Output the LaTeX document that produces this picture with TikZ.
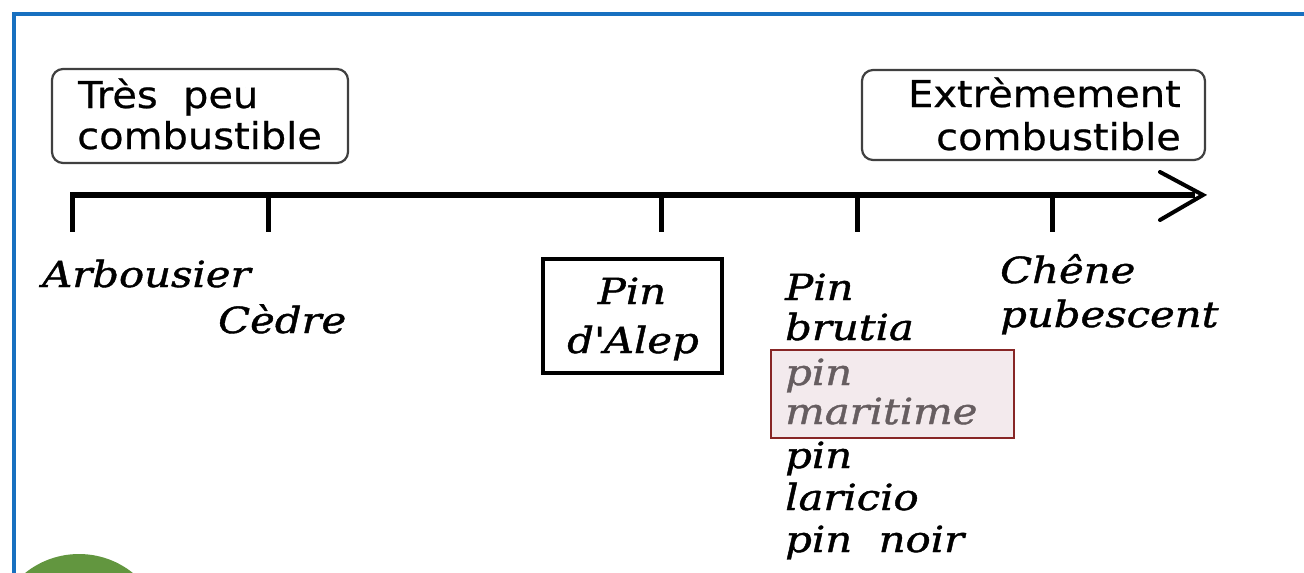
\documentclass[tikz,border=0pt]{standalone}
\usepackage{fontspec}
\newfontfamily\itf{DejaVu Serif Italic}[FakeStretch=1.16, FakeBold=1.2]
\newfontfamily\sff{DejaVu Sans}[FakeStretch=1.08, FakeBold=0.6]
\begin{document}
\begin{tikzpicture}[x=1pt,y=-1pt,
  sanslbl/.style={inner sep=0pt, anchor=base west, font=\sff\fontsize{37}{42}\selectfont},
  sanslblr/.style={inner sep=0pt, anchor=base east, font=\sff\fontsize{37}{42}\selectfont},
  itlbl/.style={inner sep=0pt, anchor=base west, font=\itf\fontsize{36}{42}\selectfont},
  itlblc/.style={inner sep=0pt, anchor=base, font=\itf\fontsize{36}{42}\selectfont},
  rbox/.style={draw=black!75, line width=2.2pt, rounded corners=11pt},
  tick/.style={line width=5pt},
  axis/.style={line width=6pt}]
\useasboundingbox (0,0) rectangle (1304,573);
\definecolor{frameblue}{RGB}{24,112,192}
\definecolor{leafgreen}{RGB}{98,150,63}
\definecolor{hlfill}{RGB}{228,208,214}
\definecolor{hldraw}{RGB}{135,38,38}
% frame
\draw[frameblue, line width=4pt] (14,580) -- (14,14) -- (1310,14);
% green circle
\fill[leafgreen] (79,640) circle (86);
% boxes
\draw[rbox] (52,69) rectangle (348,163);
\draw[rbox] (862,70) rectangle (1205,160);
\node[sanslbl] (t1) at (78,108) {Très\ \ peu};
\node[sanslbl] (t2) at (77,149) {combustible};
\node[sanslblr] (e1) at (1181,107) {Extrèmement};
\node[sanslblr] (e2) at (1181,150) {combustible};
% axis
\coordinate (a0) at (70,195);
\coordinate (a1) at (1195,195);
\coordinate (tip) at (1203,195);
\draw[axis] (a0) -- (a1);
\draw[line width=4pt, line cap=round, line join=miter] (1160,172) -- (tip) -- (1160,220);
\foreach \x/\n in {72/k1,268/k2,661/k3,857/k4,1052/k5}{
  \coordinate (\n) at (\x,195);
  \draw[tick] (\n) -- ++(0,37);
}
% labels
\node[itlbl] (arb) at (42,287) {Arbousier};
\node[itlbl] (ced) at (218,333) {Cèdre};
\draw[line width=3.5pt] (543,259) rectangle (722,373);
\node[itlblc] (al1) at (632,304) {Pin};
\node[itlblc] (al2) at (633,353) {d\textquotesingle Alep};
\node[itlbl] (pb1) at (785,300) {Pin};
\node[itlbl] (pb2) at (785,340) {brutia};
\node[itlbl] (pm1) at (785,385) {pin};
\node[itlbl] (pm2) at (785,424) {maritime};
\node[itlbl] (pl1) at (785,468) {pin};
\node[itlbl] (pl2) at (785,510) {laricio};
\node[itlbl] (pn) at (785,552) {pin\ \ noir};
\node[itlbl] (ch1) at (1000,283) {Chêne};
\node[itlbl] (ch2) at (1000,327) {pubescent};
\node[draw=hldraw, line width=2pt, fill=hlfill, fill opacity=0.45, minimum width=243pt, minimum height=88pt, anchor=north west, inner sep=0pt] (hl) at (770,349) {};
\end{tikzpicture}
\end{document}
